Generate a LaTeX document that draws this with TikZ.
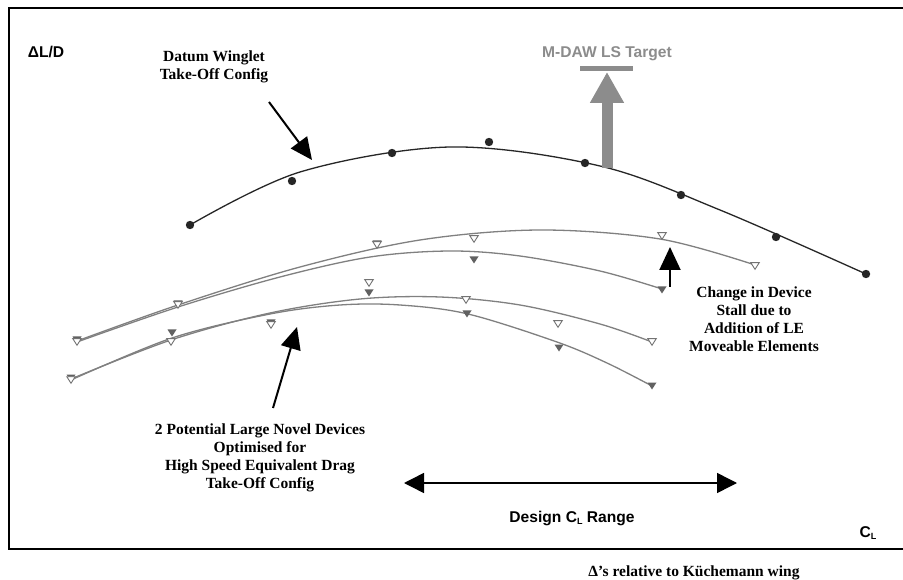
\documentclass[tikz,border=0pt]{standalone}
\usepackage{fontspec}
\setmainfont{Liberation Serif}
\setsansfont{Liberation Sans}
\usetikzlibrary{arrows.meta}
\begin{document}
\begin{tikzpicture}[x=1pt,y=-1pt,
  lbl/.style={font=\fontsize{15.5}{18}\selectfont\bfseries, align=center, inner sep=0pt},
  slbl/.style={font=\fontsize{15.6}{18}\selectfont\sffamily\bfseries, inner sep=0pt},
  datum/.style={line width=1.3pt, color=black!85},
  gcurve/.style={line width=1.3pt, color=black!50},
  dot/.style={fill=black!85},
  triopen/.style={draw=black!55, fill=white, line width=0.9pt},
  trifill/.style={fill=black!62},
  bigarrow/.style={line width=2pt, -{Triangle[length=22pt,width=20pt]}},
  tgtgray/.style={color=black!45},
]
\useasboundingbox (0,0) rectangle (903,580);
\fill[white] (0,0) rectangle (903,580);
% frame
\draw[line width=2.5pt] (920,8) -- (9,8) -- (9,549) -- (920,549);

% datum curve
\draw[datum] plot[smooth, tension=0.55] coordinates {(190,225) (300,172) (450,147) (600,166) (720,210) (866,274)};
\foreach \p in {(190,225),(292,181),(392,153),(489,142),(585,163),(681,195),(776,237),(866,274)}
  \fill[dot] \p circle[radius=4.2pt];

% gray curves
\draw[gcurve] plot[smooth, tension=0.55] coordinates {(77,341) (178,305) (300,267) (420,240) (540,230) (660,239) (755,265)};
\draw[gcurve] plot[smooth, tension=0.55] coordinates {(77,342) (178,307) (280,277) (370,257) (450,251) (520,256) (600,271) (662,289)};
\draw[gcurve] plot[smooth, tension=0.55] coordinates {(71,379) (171,340) (270,313) (360,299) (440,297) (520,305) (600,324) (652,342)};
\draw[gcurve] plot[smooth, tension=0.55] coordinates {(71,380) (172,338) (270,314) (340,305) (400,305) (468,314) (557,342) (607,363) (652,386)};

% filled triangles
\foreach \x/\y in {77/340,178/304,377/244,474/260,662/290,71/378,172/333,271/323,369/293,467/314,559/348,652/386}
  \fill[trifill] (\x,\y) +(-4.5,-3.5) -- +(4.5,-3.5) -- +(0,3.5) -- cycle;
% open triangles
\foreach \x/\y in {77/342,178/305,377/245,474/239,662/236,755/266,71/380,171/342,271/325,369/283,466/300,558/324,652/342}
  \draw[triopen] (\x,\y) +(-4.2,-3.3) -- +(4.2,-3.3) -- +(0,3.3) -- cycle;

% texts
\node[slbl] (ald) at (46,52) {ΔL/D};
\node[lbl] (datumtxt) at (214,66.5) {Datum Winglet\\Take-Off Config};
\node[slbl, tgtgray] (target) at (607,54) {M-DAW LS Target};
\node[lbl] (change) at (754,319) {Change in Device\\Stall due to\\Addition of LE\\Moveable Elements};
\node[lbl] (potential) at (260,458) {2 Potential Large Novel Devices\\Optimised for\\High Speed Equivalent Drag\\Take-Off Config};
\node[slbl] (design) at (572,518) {Design C\raisebox{-0.35ex}{\fontsize{9}{9}\selectfont L} Range};
\node[slbl] (cl) at (868,533) {C\raisebox{-0.35ex}{\fontsize{9}{9}\selectfont L}};
\node[lbl] (note) at (694,573) {Δ’s relative to Küchemann wing};

% arrows
\coordinate (dA) at (269,102); \coordinate (dB) at (312,160);
\draw[bigarrow] (dA) -- (dB);
\coordinate (pA) at (273,408); \coordinate (pB) at (297,327);
\draw[bigarrow] (pA) -- (pB);
\coordinate (cA) at (670,287); \coordinate (cB) at (670,247);
\draw[line width=2pt, -{Triangle[length=23pt,width=21pt]}] (cA) -- (cB);
\coordinate (rL) at (404,483); \coordinate (rR) at (737,483);
\draw[line width=1.5pt, {Triangle[length=20pt,width=20pt]}-{Triangle[length=20pt,width=20pt]}] (rL) -- (rR);

% target arrow
\coordinate (tBase) at (607,168); \coordinate (tTip) at (607,72);
\draw[tgtgray, line width=11pt, -{Triangle[length=31pt,width=32pt]}] (tBase) -- (tTip);
\coordinate (barL) at (580,69); \coordinate (barR) at (633,69);
\draw[tgtgray, line width=5pt] (barL) -- (barR);
\end{tikzpicture}
\end{document}
